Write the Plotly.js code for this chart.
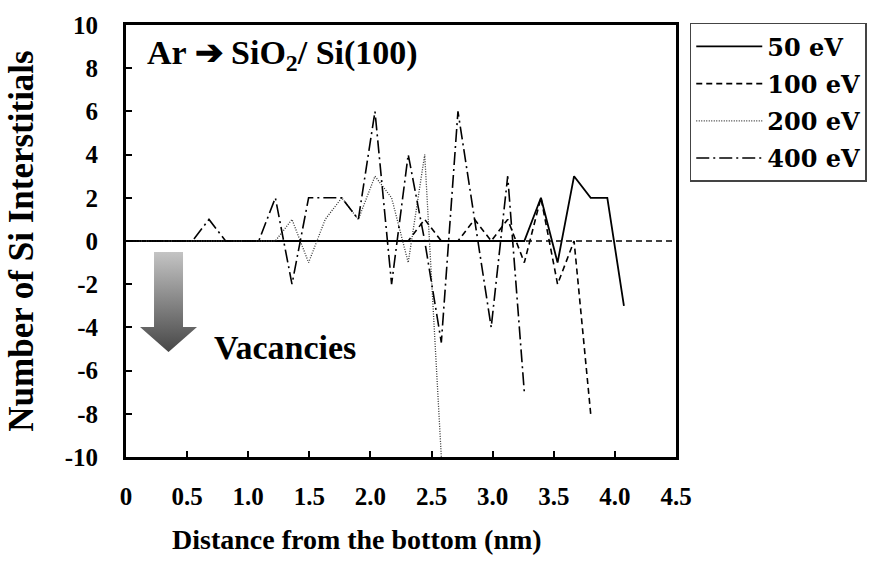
<!DOCTYPE html>
<html>
<head>
<meta charset="utf-8">
<script src="https://cdn.plot.ly/plotly-3.0.1.min.js"></script>
<style>
  html, body { margin: 0; padding: 0; background: #fff; }
  #chart { width: 879px; height: 562px; }
</style>
</head>
<body>
<div id="chart"></div>
<script>
// Layer positions (nm from the bottom)
const distance = [0, 0.136, 0.272, 0.407, 0.543, 0.679, 0.815, 0.951, 1.086, 1.222, 1.358,
  1.494, 1.630, 1.765, 1.901, 2.037, 2.173, 2.309, 2.444, 2.580, 2.716,
  2.852, 2.988, 3.123, 3.259, 3.395, 3.531, 3.666, 3.802, 3.938, 4.074];

const seriesNames = ["50 eV", "100 eV", "200 eV", "400 eV"];

const ev50 = [0, 0, 0, 0, 0, 0, 0, 0, 0, 0, 0, 0, 0, 0, 0, 0, 0, 0, 0, 0, 0, 0, 0, 0, 0,
  2, -1, 3, 2, 2, -3];
const ev100 = [0, 0, 0, 0, 0, 0, 0, 0, 0, 0, 0, 0, 0, 0, 0, 0, 0, 0,
  1, 0, 0, 1, 0, 1, -1, 2, -2, 0, -8];
const ev200 = [0, 0, 0, 0, 0, 0, 0, 0, 0, 0,
  1, -1, 1, 2, 1, 3, 2, -1, 4, -10];
const ev400 = [0, 0, 0, 0, 0, 1, 0, 0, 0, 2, -2, 2, 2, 2, 1, 6, -2, 4, 0, -4.7,
  6, 1, -4, 3, -7];

const xTickVals = [0, 0.5, 1.0, 1.5, 2.0, 2.5, 3.0, 3.5, 4.0, 4.5];
const xTickText = ["0", "0.5", "1.0", "1.5", "2.0", "2.5", "3.0", "3.5", "4.0", "4.5"];
const yTickVals = [-10, -8, -6, -4, -2, 0, 2, 4, 6, 8, 10];
const yTickText = ["-10", "-8", "-6", "-4", "-2", "0", "2", "4", "6", "8", "10"];

const xTitle = "Distance from the bottom (nm)";
const yTitle = "Number of Si Interstitials";

const FONT = "'Liberation Serif', 'Times New Roman', serif";
const WIDE = "'DejaVu Serif', 'Liberation Serif', serif";

const valuesList = [ev50, ev100, ev200, ev400];
const styles = [
  { dash: "solid", width: 1.8, color: "#000" },
  { dash: "6px,4px", width: 1.6, color: "#000" },
  { dash: "1px,1.5px", width: 1.3, color: "#333" },
  { dash: "13px,4px,2px,4px", width: 1.6, color: "#000" }
];

const traces = valuesList.map((vals, i) => ({
  type: "scatter",
  mode: "lines",
  name: seriesNames[i],
  legendgroup: "g" + i,
  x: distance.slice(0, vals.length),
  y: vals,
  line: styles[i],
  hoverinfo: "x+y+name"
}));

// gradient "vacancies" arrow as inline SVG image
const arrowSvg = "<svg xmlns='http://www.w3.org/2000/svg' width='57' height='100' viewBox='0 0 57 100'>" +
  "<defs><linearGradient id='g' x1='0' y1='0' x2='0' y2='1'>" +
  "<stop offset='0' stop-color='#c4c4c4'/><stop offset='1' stop-color='#474747'/>" +
  "</linearGradient></defs>" +
  "<path d='M14,0 H43 V75 H57 L28.5,100 L0,75 H14 Z' fill='url(#g)'/></svg>";
const arrowSrc = "data:image/svg+xml;charset=utf-8," + encodeURIComponent(arrowSvg);

const layout = {
  width: 879,
  height: 562,
  margin: { l: 126, r: 203, t: 25, b: 105 },
  paper_bgcolor: "#fff",
  plot_bgcolor: "#fff",
  font: { family: FONT, color: "#000", size: 24 },
  showlegend: true,
  legend: {
    x: 1.025, xanchor: "left",
    y: 1.005, yanchor: "top",
    bgcolor: "#fff",
    bordercolor: "#444",
    borderwidth: 1.5,
    font: { family: WIDE, size: 24, color: "#000", weight: "bold" },
    itemwidth: 66,
    tracegroupgap: 3
  },
  xaxis: {
    range: [0, 4.5],
    tickvals: xTickVals,
    ticktext: xTickText,
    ticks: "inside",
    ticklen: 6,
    tickwidth: 2,
    tickcolor: "#000",
    showline: true,
    linecolor: "#000",
    linewidth: 3,
    mirror: true,
    showgrid: false,
    zeroline: false,
    ticklabelstandoff: 15,
    tickfont: { family: FONT, size: 25, weight: "bold" },
    automargin: false,
    fixedrange: true
  },
  yaxis: {
    range: [-10, 10],
    tickvals: yTickVals,
    ticktext: yTickText,
    ticks: "inside",
    ticklen: 6,
    tickwidth: 2,
    tickcolor: "#000",
    showline: true,
    linecolor: "#000",
    linewidth: 3,
    mirror: true,
    showgrid: false,
    zeroline: false,
    ticklabelstandoff: 20,
    tickfont: { family: FONT, size: 25, weight: "bold" },
    title: {
      text: "<b>" + yTitle + "</b>",
      font: { family: FONT, size: 35 },
      standoff: 21
    },
    automargin: false,
    fixedrange: true
  },
  shapes: [
    {
      type: "line", xref: "paper", yref: "y",
      x0: 0, x1: 1, y0: 0, y1: 0,
      line: { color: "#000", width: 1.6, dash: "6px,4px" },
      layer: "below"
    }
  ],
  images: [
    {
      source: arrowSrc,
      xref: "paper", yref: "paper",
      x: 0.0255, y: 0.4745,
      sizex: 0.1036, sizey: 0.2315,
      xanchor: "left", yanchor: "top",
      sizing: "stretch",
      layer: "above"
    }
  ],
  annotations: [
    {
      xref: "paper", yref: "paper",
      x: 0.42, y: -0.192, xanchor: "center", yanchor: "middle",
      text: "<b>" + xTitle + "</b>",
      showarrow: false,
      font: { family: FONT, size: 28, color: "#000" }
    },
    {
      xref: "paper", yref: "paper",
      x: 0.035, y: 0.93, xanchor: "left", yanchor: "middle",
      text: "<b>Ar \u2794 SiO<sub>2</sub>/ Si(100)</b>",
      showarrow: false,
      font: { family: FONT, size: 34, color: "#000" }
    },
    {
      xref: "paper", yref: "paper",
      x: 0.156, y: 0.2546, xanchor: "left", yanchor: "middle",
      text: "<b>Vacancies</b>",
      showarrow: false,
      font: { family: FONT, size: 34, color: "#000" }
    }
  ]
};

Plotly.newPlot("chart", traces, layout, { displayModeBar: false, staticPlot: false });
</script>
</body>
</html>
